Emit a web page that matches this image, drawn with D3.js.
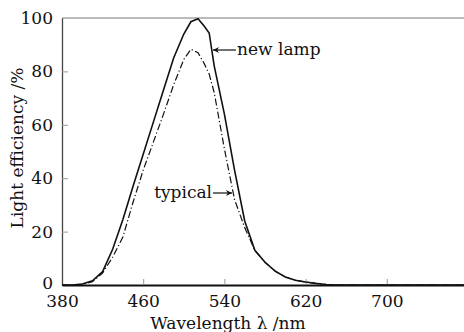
<!DOCTYPE html>
<html>
<head>
<meta charset="utf-8">
<script src="https://cdn.jsdelivr.net/npm/d3@7"></script>
<style>
  html, body { margin: 0; padding: 0; background: #fff; }
  svg { display: block; }
  text { font-family: "DejaVu Serif", "Liberation Serif", serif; fill: #111; }
</style>
</head>
<body>
<div id="chart"></div>
<script>
// wavelength samples (nm)
const wavelengths = [380, 390, 400, 410, 420, 430, 440, 450, 460, 470, 480, 490, 500, 507, 514,
  520, 525, 530, 540, 550, 560, 570, 580, 590, 600, 610, 620, 630, 640, 650, 700, 780];
// light efficiency (%)
const newLamp = [0, 0, 0.4, 1.6, 5, 13.5, 24.5, 37, 49, 61, 73, 85, 94, 98.6, 99.7,
  97, 94.4, 82, 64, 43, 24, 13, 8.5, 5.2, 3, 1.8, 1.1, 0.6, 0.2, 0, 0, 0];
const typical = [0, 0, 0.2, 1.2, 4.5, 10.5, 18, 31, 43, 53.5, 64, 75, 84.5, 88.3, 87,
  83, 79, 72, 51, 32, 21.5, 13, 8.5, 5.2, 3, 1.8, 1.1, 0.6, 0.2, 0, 0, 0];
const xTicks = [380, 460, 540, 620, 700];
const yTicks = [0, 20, 40, 60, 80, 100];

const W = 464, H = 332;
const margin = { top: 18, right: -4, bottom: 47, left: 62 };
const width = W - margin.left - margin.right;
const height = H - margin.top - margin.bottom;

const svg = d3.select("#chart").append("svg")
  .attr("width", W).attr("height", H);
const g = svg.append("g")
  .attr("transform", "translate(" + margin.left + "," + margin.top + ")");

const x = d3.scaleLinear().domain([380, 780]).range([0, width]);
const y = d3.scaleLinear().domain([0, 100]).range([height, 0]);

// frame top
g.append("line")
  .attr("x1", 0).attr("x2", width).attr("y1", 0).attr("y2", 0)
  .attr("stroke", "#777").attr("stroke-width", 1.2);

// x axis, ticks pointing inward
const xAxis = g.append("g")
  .attr("transform", "translate(0," + height + ")")
  .call(d3.axisBottom(x).tickValues(xTicks).tickSize(-6).tickSizeOuter(0).tickPadding(12));
xAxis.select(".domain").attr("stroke", "#111").attr("stroke-width", 2);
xAxis.selectAll(".tick line").attr("stroke", "#999");
xAxis.selectAll(".tick text").attr("font-size", 17).attr("dy", "0.6em");

// y axis
const yAxis = g.append("g")
  .call(d3.axisLeft(y).tickValues(yTicks).tickSize(-6).tickSizeOuter(0).tickPadding(9));
yAxis.select(".domain").attr("stroke", "#444").attr("stroke-width", 1.3);
yAxis.selectAll(".tick line").attr("stroke", "#999");
yAxis.selectAll(".tick text").attr("font-size", 17)
  .attr("dy", d => d === 0 ? "0.2em" : "0.32em");
yAxis.selectAll(".tick line").filter(d => d === 0 || d === 100).remove();

const line = d3.line()
  .x((d, i) => x(wavelengths[i]))
  .y(d => y(d));

g.append("path").datum(typical)
  .attr("d", line)
  .attr("fill", "none").attr("stroke", "#111").attr("stroke-width", 1.2)
  .attr("stroke-dasharray", "7,2.5,1.2,2.5");

g.append("path").datum(newLamp)
  .attr("d", line)
  .attr("fill", "none").attr("stroke", "#111").attr("stroke-width", 1.6);

// arrow marker
svg.append("defs").append("marker")
  .attr("id", "arr").attr("viewBox", "0 0 10 10")
  .attr("refX", 10).attr("refY", 5)
  .attr("markerWidth", 8).attr("markerHeight", 6)
  .attr("markerUnits", "userSpaceOnUse")
  .attr("orient", "auto")
  .append("path").attr("d", "M0,0L10,5L0,10L3,5Z").attr("fill", "#111");

// annotations
g.append("line")
  .attr("x1", 236 - margin.left).attr("y1", 50 - margin.top)
  .attr("x2", 213 - margin.left).attr("y2", 50 - margin.top)
  .attr("stroke", "#111").attr("stroke-width", 1.2).attr("marker-end", "url(#arr)");
g.append("text")
  .attr("x", 237 - margin.left).attr("y", 55 - margin.top)
  .attr("font-size", 17).text("new lamp");

g.append("line")
  .attr("x1", 213 - margin.left).attr("y1", 193 - margin.top)
  .attr("x2", 232 - margin.left).attr("y2", 193 - margin.top)
  .attr("stroke", "#111").attr("stroke-width", 1.2).attr("marker-end", "url(#arr)");
g.append("text")
  .attr("x", 212 - margin.left).attr("y", 198 - margin.top)
  .attr("text-anchor", "end")
  .attr("font-size", 17).text("typical");

// axis titles
svg.append("text")
  .attr("x", 228).attr("y", 329)
  .attr("text-anchor", "middle").attr("font-size", 17)
  .text("Wavelength λ /nm");
svg.append("text")
  .attr("transform", "translate(23," + 148 + ") rotate(-90)")
  .attr("text-anchor", "middle").attr("font-size", 17)
  .text("Light efficiency /%");
</script>
</body>
</html>
